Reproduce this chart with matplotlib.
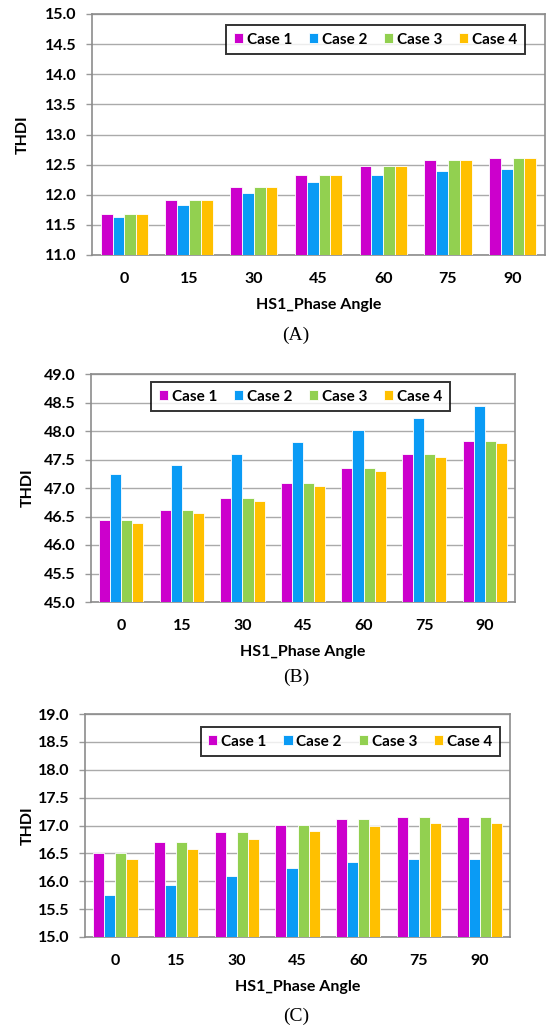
import matplotlib
matplotlib.use('Agg')
import matplotlib.pyplot as plt
import numpy as np

# phase angles on the x axis
angles = ['0', '15', '30', '45', '60', '75', '90']
cases = ['Case 1', 'Case 2', 'Case 3', 'Case 4']
colors = ['#CC00CC', '#0A9BF5', '#92D050', '#FFC000']

# (A)
a_case1 = [11.68, 11.91, 12.13, 12.32, 12.47, 12.57, 12.61]
a_case2 = [11.63, 11.83, 12.03, 12.21, 12.32, 12.39, 12.42]
a_case3 = [11.68, 11.91, 12.13, 12.32, 12.47, 12.57, 12.61]
a_case4 = [11.68, 11.91, 12.13, 12.32, 12.47, 12.57, 12.61]

# (B)
b_case1 = [46.43, 46.62, 46.83, 47.08, 47.35, 47.60, 47.82]
b_case2 = [47.25, 47.40, 47.59, 47.80, 48.02, 48.22, 48.43]
b_case3 = [46.43, 46.62, 46.83, 47.08, 47.35, 47.60, 47.82]
b_case4 = [46.38, 46.56, 46.78, 47.04, 47.29, 47.55, 47.79]

# (C)
c_case1 = [16.50, 16.70, 16.88, 17.01, 17.11, 17.16, 17.15]
c_case2 = [15.75, 15.93, 16.09, 16.23, 16.34, 16.40, 16.40]
c_case3 = [16.50, 16.70, 16.88, 17.01, 17.11, 17.16, 17.15]
c_case4 = [16.40, 16.58, 16.76, 16.90, 16.99, 17.04, 17.04]

W, H = 550, 1027
fig = plt.figure(figsize=(W / 100, H / 100), dpi=100)

FAM = ['Lato', 'DejaVu Sans']
tick_font = dict(family=FAM, weight='bold', size=11.5)


def panel(box, series, ylim, leg_anchor, ylab_x, caption, cap_y):
    left, right, top, bottom = box
    ax = fig.add_axes([left / W, 1 - bottom / H, (right - left) / W, (bottom - top) / H])
    x = np.arange(len(angles))
    bw = 0.183
    for i, vals in enumerate(series):
        ax.bar(x + (i - 1.5) * bw, np.array(vals) - ylim[0], bw, bottom=ylim[0],
               color=colors[i], edgecolor='white', linewidth=0.6,
               label=cases[i], zorder=3)
    ax.set_xlim(-0.5, len(angles) - 0.5)
    ax.set_ylim(*ylim)
    yt = np.arange(ylim[0], ylim[1] + 0.01, 0.5)
    ax.set_yticks(yt)
    ax.set_yticklabels([f'{v:.1f}' for v in yt], fontdict=tick_font)
    ax.set_xticks(x)
    ax.set_xticklabels(angles, fontdict=tick_font)
    ax.tick_params(axis='x', length=0, pad=12)
    ax.tick_params(axis='y', length=4, width=1, color='#999999', pad=7, direction='out')
    ax.yaxis.grid(True, color='#AAAAAA', linewidth=1, zorder=0)
    ax.set_axisbelow(True)
    for s in ax.spines.values():
        s.set_color('#8C8C8C')
        s.set_linewidth(1.2)
    ax.set_ylabel('THDI', fontdict=tick_font)
    ax.yaxis.set_label_coords((ylab_x - left) / (right - left), 0.5)
    ax.set_xlabel('HS1_Phase Angle', fontdict=tick_font, labelpad=9)
    leg = ax.legend(loc='upper right', bbox_to_anchor=leg_anchor, ncol=4,
                    frameon=True, fancybox=False, edgecolor='black',
                    prop=dict(family=FAM, weight='bold', size=11),
                    handlelength=0.6, handleheight=0.6, handletextpad=0.25,
                    columnspacing=1.1, borderpad=0.5, borderaxespad=0)
    leg.get_frame().set_linewidth(1.4)
    fig.text(296 / W, 1 - cap_y / H, caption, ha='center', va='center',
             family='Liberation Serif', fontsize=14)
    return ax


panel((92, 545, 14, 255), [a_case1, a_case2, a_case3, a_case4], (11.0, 15.0),
      (0.956, 0.954), 30, '(A)', 335)
panel((91, 515, 374, 602), [b_case1, b_case2, b_case3, b_case4], (45.0, 49.0),
      (0.847, 0.965), 35, '(B)', 677)
panel((85, 510, 714, 937), [c_case1, c_case2, c_case3, c_case4], (15.0, 19.0),
      (0.976, 0.942), 35, '(C)', 1016)

fig.savefig('out.png', dpi=100)
